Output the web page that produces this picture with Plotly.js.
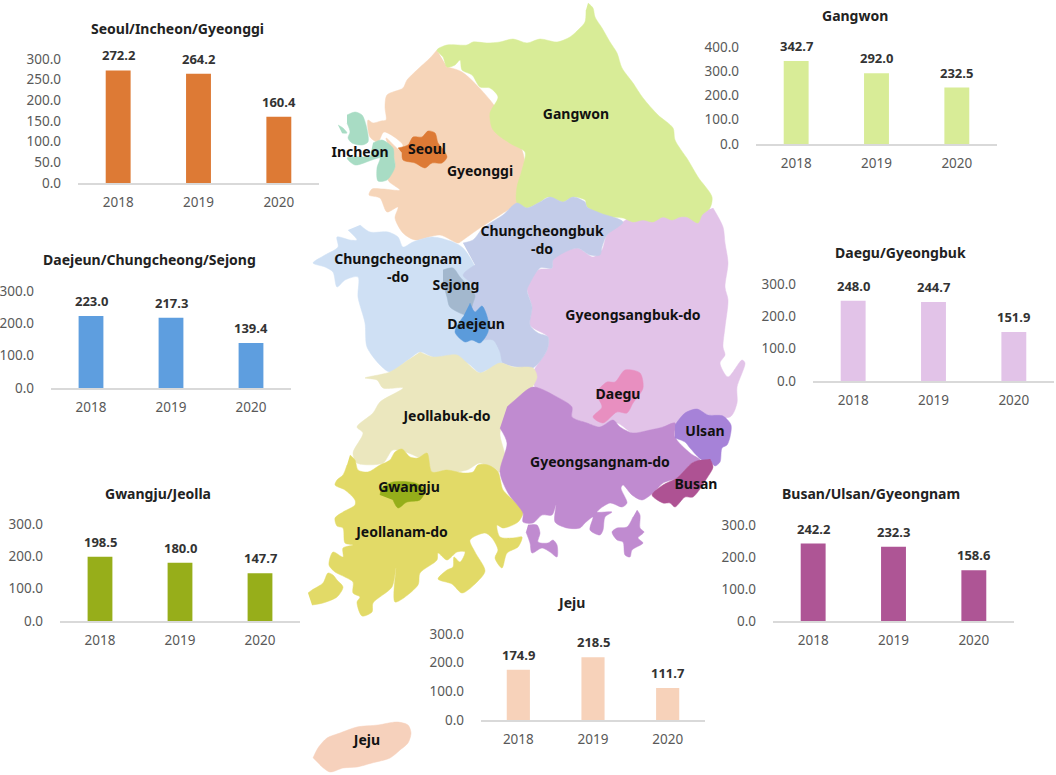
<!DOCTYPE html>
<html>
<head>
<meta charset="utf-8">
<script src="https://cdn.plot.ly/plotly-3.0.1.min.js"></script>
<style>body{margin:0;background:#fff}</style>
</head>
<body>
<div id="myDiv" style="width:1056px;height:775px"></div>
<script>
let years = ['2018', '2019', '2020'];
let chartNames = ['Seoul/Incheon/Gyeonggi', 'Gangwon', 'Daejeun/Chungcheong/Sejong', 'Daegu/Gyeongbuk', 'Gwangju/Jeolla', 'Busan/Ulsan/Gyeongnam', 'Jeju'];
let seoulValues = [272.2, 264.2, 160.4];
let gangwonValues = [342.7, 292.0, 232.5];
let daejeunValues = [223.0, 217.3, 139.4];
let daeguValues = [248.0, 244.7, 151.9];
let gwangjuValues = [198.5, 180.0, 147.7];
let busanValues = [242.2, 232.3, 158.6];
let jejuValues = [174.9, 218.5, 111.7];
let chartValues = [seoulValues, gangwonValues, daejeunValues, daeguValues, gwangjuValues, busanValues, jejuValues];
let chartColors = ['#DD7A35', '#D8EC97', '#5E9EDF', '#E2C3E8', '#97AE1A', '#AE5595', '#F7D2BA'];
let chartTops = [300, 400, 300, 300, 300, 300, 300];
let chartSteps = [50, 100, 100, 100, 100, 100, 100];

// panel boxes in page pixels: left, right, y of top tick, y of zero, title x, title y
let boxes = [
    [78, 319, 59, 183, 177, 28],
    [756, 997, 47, 144, 855, 15],
    [51, 291, 291, 388, 149, 259],
    [813, 1054, 284, 381, 900, 253],
    [60, 300, 524, 621, 158, 493],
    [773, 1014, 525, 621, 871, 493],
    [481, 705, 634, 720, 571, 602]
];

// map outlines in page pixels
let gyeonggi = [[437,50],[430,58],[417,70],[407,80],[403,88],[387,95],[385,107],[386,120],[381,121],[373,123],[368,120],[370,137],[378,142],[384,132],[403,145],[400,150],[386,138],[394,158],[395,167],[388,180],[400,190],[383,189],[372,189],[369,195],[380,198],[387,212],[398,207],[395,218],[403,233],[415,240],[440,235],[458,243],[463,240],[477,230],[503,213],[517,203],[525,170],[522,150],[490,100],[462,72],[447,67]];
let gyeongbuk = [[713,208],[723,227],[725,243],[728,263],[725,287],[728,300],[725,327],[723,347],[725,355],[720,363],[728,377],[742,360],[745,363],[737,387],[737,403],[730,417],[690,413],[675,427],[663,427],[650,430],[633,433],[617,423],[600,427],[583,422],[572,417],[572,407],[557,397],[535,387],[533,373],[547,350],[548,337],[530,325],[532,307],[527,287],[538,270],[552,268],[553,258],[577,248],[593,257],[602,250],[607,235],[623,222],[640,212],[700,212]];
let gangwon = [[588,3],[593,8],[595,17],[602,28],[610,42],[617,53],[622,68],[633,83],[643,98],[658,115],[673,128],[675,140],[688,160],[698,177],[712,197],[710,208],[702,215],[698,223],[687,217],[680,217],[672,220],[663,217],[653,222],[643,220],[633,222],[623,218],[608,217],[598,213],[587,207],[585,200],[573,197],[563,202],[548,197],[540,202],[527,208],[517,203],[517,187],[522,170],[525,152],[513,145],[498,135],[492,128],[490,113],[498,97],[490,88],[480,87],[472,75],[462,70],[460,60],[455,65],[447,67],[443,57],[437,50],[447,45],[467,45],[473,42],[487,43],[500,42],[513,39],[527,43],[540,39],[557,42],[570,37],[580,28],[585,22],[586,10]];
let chungnam = [[360,225],[370,232],[388,232],[398,237],[403,247],[413,242],[432,237],[453,242],[463,248],[475,267],[480,300],[500,340],[503,363],[487,370],[480,373],[467,363],[433,357],[420,352],[408,360],[390,372],[380,365],[367,347],[365,323],[358,297],[358,277],[345,280],[337,287],[333,272],[325,267],[313,263],[325,255],[338,247],[337,237],[350,240],[357,240],[348,230]];
let chungbuk = [[463,243],[473,240],[483,228],[503,215],[517,203],[527,208],[540,202],[550,197],[563,202],[573,197],[585,202],[587,207],[600,213],[623,222],[607,235],[602,247],[600,255],[590,255],[577,248],[553,260],[552,268],[540,268],[530,283],[527,290],[532,307],[530,325],[538,333],[548,337],[547,350],[533,368],[517,367],[503,363],[500,352],[493,340],[480,340],[457,333],[473,303],[475,287],[463,275],[475,265]];
let jeonbuk = [[420,352],[433,357],[457,355],[467,363],[480,373],[500,363],[513,367],[533,368],[537,377],[530,390],[510,407],[500,433],[505,457],[500,472],[480,463],[467,470],[433,473],[423,460],[393,450],[383,463],[357,463],[353,453],[363,433],[357,427],[373,413],[380,402],[403,388],[383,388],[377,380],[365,378],[390,372],[408,360]];
let gyeongnam = [[507,407],[515,400],[533,387],[557,397],[572,407],[572,417],[587,423],[600,427],[613,420],[620,427],[633,433],[650,430],[663,427],[675,423],[675,437],[690,453],[700,460],[692,463],[677,478],[663,483],[653,493],[642,500],[632,495],[623,485],[621,488],[627,503],[622,507],[610,503],[597,512],[612,512],[605,517],[603,530],[600,535],[590,530],[593,517],[585,523],[580,528],[567,528],[555,522],[556,505],[552,515],[542,515],[533,523],[523,522],[523,513],[508,493],[500,472],[507,443],[500,428]];
let namhae = [[637,510],[640,515],[640,528],[644,532],[638,538],[643,543],[632,550],[630,557],[625,555],[623,542],[617,540],[612,532],[617,528],[627,527],[633,517]];
let geoje = [[528,525],[537,525],[540,533],[538,542],[548,543],[553,540],[557,545],[557,557],[550,552],[542,548],[532,553],[530,543],[526,532]];
let jeonnam = [[350,455],[355,460],[358,470],[368,472],[380,465],[390,460],[395,452],[402,449],[410,457],[418,458],[427,453],[432,472],[447,470],[463,473],[473,472],[478,465],[488,465],[498,472],[503,490],[513,500],[523,512],[518,522],[503,528],[497,525],[500,537],[513,538],[522,537],[518,547],[507,553],[502,568],[495,558],[498,550],[492,538],[485,533],[470,540],[475,552],[485,571],[477,582],[462,593],[452,584],[438,579],[447,570],[453,567],[454,557],[460,562],[465,552],[457,552],[447,560],[438,553],[437,560],[420,573],[418,585],[395,602],[396,568],[392,587],[373,603],[372,612],[362,616],[357,602],[360,597],[353,593],[353,582],[345,577],[335,572],[329,565],[333,552],[343,557],[343,548],[353,545],[345,543],[343,528],[337,526],[335,518],[343,512],[355,505],[355,500],[345,490],[335,485],[337,480],[343,475],[347,465]];
let jindo = [[308,593],[312,590],[323,583],[328,573],[333,575],[337,580],[343,587],[337,597],[323,603],[312,605]];
let ganghwa = [[347,115],[355,112],[362,115],[366,125],[368,142],[362,145],[352,143],[348,138],[350,132],[347,123]];
let islet = [[338,125],[343,128],[347,133],[342,133]];
let incheon = [[373,143],[382,140],[393,148],[394,158],[395,167],[387,180],[378,181],[377,168],[380,158],[372,160],[355,165],[347,158],[355,157],[370,157]];
let seoul = [[398,148],[408,145],[413,137],[422,137],[428,131],[435,133],[438,143],[442,148],[447,157],[442,163],[432,163],[425,168],[415,163],[403,160],[402,153]];
let sejong = [[443,270],[453,268],[460,277],[475,295],[473,303],[468,315],[450,307],[447,297],[443,283]];
let daejeon = [[470,303],[475,312],[482,306],[488,320],[488,332],[480,343],[472,340],[465,342],[455,332],[463,317]];
let daegu = [[598,390],[607,382],[615,382],[625,370],[640,373],[643,388],[633,403],[627,413],[617,412],[603,423],[593,417],[602,407],[597,397]];
let ulsan = [[675,425],[685,413],[697,409],[708,415],[723,416],[731,425],[730,437],[727,445],[722,448],[720,462],[715,466],[709,460],[702,460],[690,448],[685,442],[675,438]];
let busan = [[710,459],[713,467],[707,478],[693,497],[685,497],[675,507],[670,503],[663,503],[652,495],[663,485],[677,478],[692,463],[700,460]];
let gwangju = [[380,495],[382,488],[393,482],[415,483],[425,490],[420,500],[407,502],[398,508],[393,500]];
let jeju = [[313,758],[318,748],[327,738],[340,733],[357,727],[378,725],[397,722],[408,725],[411,733],[408,743],[400,750],[390,758],[372,763],[357,767],[343,768],[330,772],[320,765]];

let mapShapes = [gyeonggi, gyeongbuk, gangwon, chungnam, chungbuk, jeonbuk, jeonnam, jindo, gyeongnam, namhae, geoje, ganghwa, islet, incheon, seoul, sejong, daejeon, daegu, ulsan, busan, gwangju, jeju];
let mapColors = ['#F6D5B9', '#E2C3E8', '#D8EC97', '#CFE0F4', '#C3CCE9', '#EBE7BE', '#E2DA67', '#E2DA67', '#C08BD0', '#C08BD0', '#C08BD0', '#A8DCC4', '#A8DCC4', '#A8DCC4', '#DD7A35', '#A3B8CE', '#5B9BDB', '#E88FC0', '#A682D8', '#AE5293', '#95AE1A', '#F6D1BC'];

let mapLabels = ['Gangwon', 'Incheon', 'Seoul', 'Gyeonggi', 'Chungcheongbuk', '-do', 'Chungcheongnam', '-do', 'Sejong', 'Daejeun', 'Gyeongsangbuk-do', 'Daegu', 'Ulsan', 'Jeollabuk-do', 'Gyeongsangnam-do', 'Busan', 'Gwangju', 'Jeollanam-do', 'Jeju'];
let labelX = [576, 360, 427, 480, 542, 542, 398, 398, 456, 476, 633, 618, 705, 447, 600, 696, 409, 402, 367];
let labelY = [115, 153, 150, 172, 232, 250, 260, 278, 286, 325, 316, 395, 432, 417, 463, 485, 488, 533, 741];

let W = 1056, H = 775;
let font = '"Noto Sans", "Open Sans", sans-serif';
let data = [];
let annotations = [];
let layout = {
    width: W, height: H,
    margin: {l: 0, r: 0, t: 0, b: 0},
    paper_bgcolor: '#fff', plot_bgcolor: 'rgba(0,0,0,0)',
    showlegend: false, hovermode: false, bargap: 0.69,
    font: {family: font},
    xaxis: {range: [0, W], domain: [0, 1], visible: false, fixedrange: true},
    yaxis: {range: [H, 0], domain: [0, 1], visible: false, fixedrange: true}
};

mapShapes.forEach((s, i) => {
    data.push({
        x: s.map(p => p[0]), y: s.map(p => p[1]), type: 'scatter', mode: 'lines',
        fill: 'toself', fillcolor: mapColors[i], line: {color: mapColors[i], width: 0.5, shape: 'spline', smoothing: 0.8}
    });
});
data.push({
    x: labelX, y: labelY, text: mapLabels, type: 'scatter', mode: 'text', textposition: 'middle center',
    textfont: {family: font, size: 14, color: '#111', weight: 700}
});

chartValues.forEach((vals, i) => {
    let b = boxes[i];
    let n = i + 2;
    data.push({x: years, y: vals, type: 'bar', xaxis: 'x' + n, yaxis: 'y' + n, marker: {color: chartColors[i]}});
    layout['xaxis' + n] = {
        anchor: 'y' + n, domain: [b[0] / W, b[1] / W], type: 'category', range: [-0.5, 2.5], fixedrange: true,
        showgrid: false, showline: true, linecolor: '#D9D9D9', linewidth: 1.5, ticks: '', ticklabelstandoff: 6,
        tickfont: {family: font, size: 13.5, color: '#595959'}
    };
    layout['yaxis' + n] = {
        anchor: 'x' + n, domain: [1 - b[3] / H, 1 - b[2] / H], range: [0, chartTops[i]], dtick: chartSteps[i], tick0: 0,
        tickformat: '.1f', showgrid: false, zeroline: false, showline: false, ticks: '', ticklabelstandoff: 16, fixedrange: true,
        tickfont: {family: font, size: 13.5, color: '#595959'}
    };
    annotations.push({
        xref: 'paper', yref: 'paper', x: b[4] / W, y: 1 - b[5] / H, text: chartNames[i], showarrow: false,
        xanchor: 'center', yanchor: 'middle', font: {family: font, size: 14, color: '#222', weight: 700}
    });
    vals.forEach((v, j) => {
        // numeric-looking category names are read as positions here, so use the index
        annotations.push({
            xref: 'x' + n, yref: 'y' + n, x: j, y: v, text: v.toFixed(1), showarrow: false,
            xanchor: 'center', yanchor: 'bottom', yshift: 4, font: {family: font, size: 13, color: '#333', weight: 700}
        });
    });
});
layout.annotations = annotations;

Plotly.newPlot('myDiv', data, layout, {displayModeBar: false, staticPlot: true});
</script>
</body>
</html>
